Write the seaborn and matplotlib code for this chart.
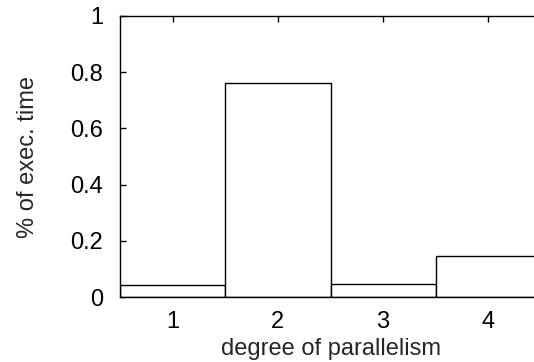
import matplotlib
matplotlib.use("Agg")
import matplotlib.pyplot as plt
import seaborn as sns
import pandas as pd

# Share of execution time spent at each degree of parallelism
degrees = ["1", "2", "3", "4"]
share = [0.044, 0.762, 0.048, 0.147]
yticks = [0, 0.2, 0.4, 0.6, 0.8, 1]
ytick_labels = ["0", "0.2", "0.4", "0.6", "0.8", "1"]

sns.set_theme(style="white")
plt.rcParams["font.family"] = ["Liberation Sans", "DejaVu Sans"]

df = pd.DataFrame({"degree": degrees, "share": share})

fig = plt.figure(figsize=(5.34, 3.62), dpi=100)
W, H = 534, 362
left, right, top, bottom = 120, 541, 16, 297
ax = fig.add_axes([left / W, 1 - bottom / H, (right - left) / W, (bottom - top) / H])

sns.barplot(data=df, x="degree", y="share", ax=ax, width=1.0,
            color="white", edgecolor="black", linewidth=1.0, saturation=1)

ax.set_xlim(-0.5, 3.5)
ax.set_ylim(0, 1)
ax.set_yticks(yticks)
ax.set_yticklabels(ytick_labels)

for side in ["left", "bottom", "top", "right"]:
    ax.spines[side].set_visible(True)
    ax.spines[side].set_color("black")
    ax.spines[side].set_linewidth(1.0)

ax.tick_params(axis="both", which="major", direction="in", length=4, width=1,
               color="black", labelsize=17, labelcolor="black",
               top=True, bottom=True, left=True, right=False)
ax.tick_params(axis="x", pad=10)
ax.tick_params(axis="y", pad=12)
ax.set_xlabel("degree of parallelism", fontsize=17, labelpad=4)
ax.set_ylabel("% of exec. time", fontsize=17, labelpad=23)

fig.savefig("out.png", dpi=100, facecolor="white")
